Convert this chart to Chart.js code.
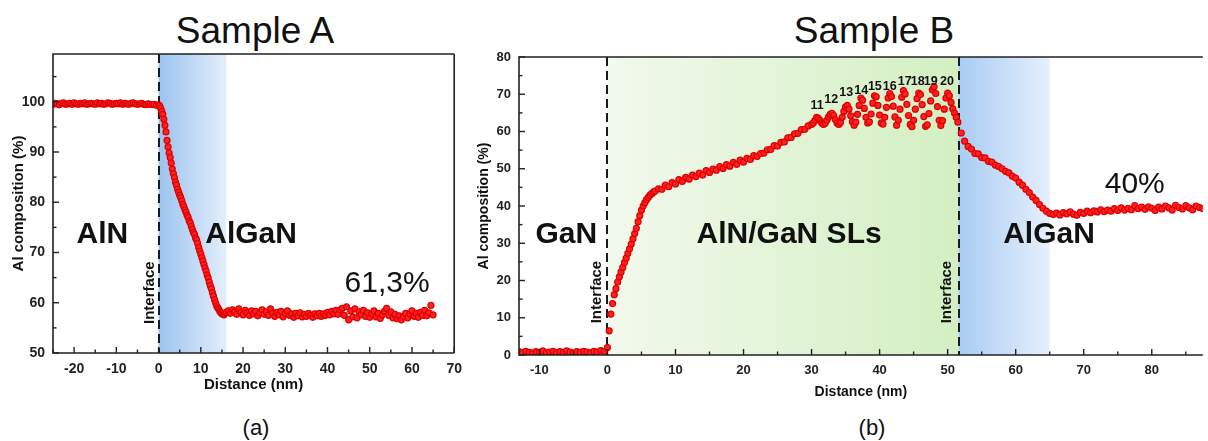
<!DOCTYPE html>
<html>
<head>
<meta charset="utf-8">
<script src="https://cdn.jsdelivr.net/npm/chart.js@4.4.0/dist/chart.umd.min.js"></script>
<style>
  body { margin: 0; background: #fff; width: 1208px; height: 441px; overflow: hidden; position: relative;
         font-family: "Liberation Sans", Arial, sans-serif; }
  canvas { position: absolute; top: 0; }
  #chartA { left: 0; }
  #chartB { left: 470px; }
  .lbl { position: absolute; color: #111; white-space: nowrap; transform: translateX(-50%); }
  .big { font-size: 37px; line-height: 37px; top: 12px; }
  .sub { font-size: 22px; line-height: 22px; top: 417px; }
</style>
</head>
<body>
<div class="lbl big" style="left:255px">Sample A</div>
<div class="lbl big" style="left:874px">Sample B</div>
<div class="lbl sub" style="left:256px">(a)</div>
<div class="lbl sub" style="left:872px">(b)</div>
<canvas id="chartA" width="470" height="441"></canvas>
<canvas id="chartB" width="738" height="441"></canvas>
<script>
// Sample A profile
const aDist = [
  -25,-24.5,-24,-23.5,-23,-22.5,-22,-21.5,-21,-20.5,
  -20,-19.5,-19,-18.5,-18,-17.5,-17,-16.5,-16,-15.5,
  -15,-14.5,-14,-13.5,-13,-12.5,-12,-11.5,-11,-10.5,
  -10,-9.5,-9,-8.5,-8,-7.5,-7,-6.5,-6,-5.5,
  -5,-4.5,-4,-3.5,-3,-2.5,-2,-1.5,-1,-0.5,
  0,
  0.25,0.5,0.75,1,1.25,1.5,1.75,2,2.25,2.5,
  2.75,3,3.25,3.5,3.75,4,4.25,4.5,4.75,5,
  5.25,5.5,5.75,6,6.25,6.5,6.75,7,7.25,7.5,
  7.75,8,8.25,8.5,8.75,9,9.25,9.5,9.75,10,
  10.25,10.5,10.75,11,11.25,11.5,11.75,12,12.25,12.5,
  12.75,13,13.25,13.5,13.75,14,14.25,14.5,14.75,15,
  15.25,15.5,15.75,16,
  16.5,17,17.5,18,18.5,19,19.5,20,20.5,21,
  21.5,22,22.5,23,23.5,24,24.5,25,25.5,26,
  26.5,27,27.5,28,28.5,29,29.5,30,30.5,31,
  31.5,32,32.5,33,33.5,34,34.5,35,35.5,36,
  36.5,37,37.5,38,38.5,39,39.5,40,40.5,41,
  41.5,42,42.5,43,43.5,44,44.5,45,45.5,46,
  46.5,47,47.5,48,48.5,49,49.5,50,50.5,51,
  51.5,52,52.5,53,53.5,54,54.5,55,55.5,56,
  56.5,57,57.5,58,58.5,59,59.5,60,60.5,61,
  61.5,62,62.5,63,63.5,64,64.5,65
];
const aAl = [
  99.5,99.7,99.6,99.4,99.7,99.8,99.5,99.6,99.7,99.5,
  99.8,99.6,99.5,99.7,99.6,99.8,99.5,99.6,99.7,99.6,
  99.5,99.8,99.6,99.7,99.5,99.6,99.8,99.7,99.5,99.6,
  99.7,99.6,99.8,99.5,99.7,99.6,99.5,99.7,99.8,99.6,
  99.5,99.6,99.7,99.5,99.4,99.6,99.5,99.4,99.5,99.3,
  99.4,
  99.2,98.7,98.1,97.5,96.5,95.3,94.0,92.3,91.0,89.8,
  88.9,87.8,86.6,85.7,84.9,84.0,83.4,82.6,82.0,81.4,
  80.9,80.3,79.6,79.1,78.5,78.0,77.4,77.0,76.3,75.9,
  75.2,74.6,74.0,73.6,72.9,72.5,71.8,71.0,70.3,69.7,
  69.0,68.3,67.6,66.9,66.3,65.5,64.9,64.1,63.4,62.8,
  62.0,61.3,60.6,60.0,59.4,59.0,58.7,58.3,58.0,57.8,
  57.9,57.6,57.9,58.1,
  58.4,57.9,58.6,58.2,57.7,58.8,58.1,57.6,58.5,58.0,
  57.5,58.4,57.8,58.3,57.4,58.0,58.6,57.7,58.2,57.5,
  58.8,57.9,57.3,58.1,57.6,58.3,57.2,57.9,58.4,57.5,
  57.8,57.1,57.9,57.4,58.0,57.2,57.7,57.3,57.9,57.5,
  57.1,57.8,57.4,57.9,57.3,57.8,57.5,58.1,57.6,58.3,
  57.8,58.5,57.7,58.6,58.9,57.5,59.2,56.6,58.4,57.2,
  58.8,57.0,58.2,57.6,58.5,57.3,58.0,57.1,57.8,58.4,
  57.2,57.9,56.9,57.6,58.3,58.9,57.5,58.2,57.0,57.7,
  56.8,57.4,56.6,57.3,57.9,57.0,57.8,58.4,57.3,57.9,
  57.1,58.1,57.5,58.5,57.4,58.0,59.5,57.6
];

// Sample B profile
const bDist = [
  -13,-12.5,-12,-11.5,-11,-10.5,-10,-9.5,-9,-8.5,
  -8,-7.5,-7,-6.5,-6,-5.5,-5,-4.5,-4,-3.5,
  -3,-2.5,-2,-1.5,-1,-0.5,
  0,0.25,0.5,0.75,1,1.25,1.5,1.75,2,2.25,
  2.5,2.75,3,3.25,3.5,3.75,4,4.25,4.5,4.75,
  5,5.25,5.5,5.75,6,6.25,6.5,6.75,7,
  7.5,8,8.5,9,9.5,10,10.5,11,11.5,12,
  12.5,13,13.5,14,14.5,15,15.5,16,16.5,17,
  17.5,18,18.5,19,19.5,20,20.5,21,21.5,22,
  22.5,23,23.5,24,24.5,25,25.5,26,26.5,27,
  27.5,28,28.5,29,29.5,30,
  30.25,30.5,30.75,31,31.25,31.5,31.75,32,32.25,32.5,
  32.75,33,33.25,33.5,33.75,34,34.25,34.5,34.75,35,
  35.25,35.5,35.75,36,36.25,36.5,36.75,37,37.25,37.5,
  37.75,38,38.25,38.5,38.75,39,39.25,39.5,39.75,40,
  40.25,40.5,40.75,41,41.25,41.5,41.75,42,42.25,42.5,
  42.75,43,43.25,43.5,43.75,44,44.25,44.5,44.75,45,
  45.25,45.5,45.75,46,46.25,46.5,46.75,47,47.25,47.5,
  47.75,48,48.25,48.5,48.75,49,49.25,49.5,49.75,50,
  50.25,50.5,50.75,51,51.25,51.5,
  52,52.5,53,53.5,54,54.5,55,55.5,56,56.5,
  57,57.5,58,58.5,59,59.5,60,60.5,61,61.5,
  62,62.5,63,63.5,64,64.5,65,65.5,66,66.5,
  67,67.5,68,68.5,69,69.5,70,70.5,71,71.5,
  72,72.5,73,73.5,74,74.5,75,75.5,76,76.5,
  77,77.5,78,78.5,79,79.5,80,80.5,81,81.5,
  82,82.5,83,83.5,84,84.5,85,85.5,86,86.5,
  87,87.5
];
const bAl = [
  0.9,0.6,1.0,0.7,0.5,0.9,0.7,1.1,0.6,0.8,
  1.0,0.6,0.9,0.7,1.1,0.8,0.5,0.9,0.7,1.0,
  0.8,0.6,1.0,0.8,1.2,1.0,
  2.0,6.5,11.0,13.8,16.2,17.8,19.6,21.0,22.3,23.5,
  24.8,26.0,27.3,28.5,29.8,31.2,32.6,34.0,35.8,37.4,
  38.9,40.0,40.9,41.7,42.3,42.9,43.3,43.7,44.0,
  44.6,44.5,45.6,45.2,46.3,45.9,47.1,46.6,47.7,47.2,
  48.3,47.9,48.8,48.3,49.5,49.0,49.9,49.6,50.6,50.1,
  51.1,50.7,51.7,51.2,52.3,51.8,52.8,52.5,53.5,53.3,
  54.1,54.2,55.1,55.2,56.2,56.1,57.1,57.2,58.3,58.4,
  59.4,59.5,60.5,60.6,61.5,61.9,
  62.3,63.0,63.8,63.5,62.9,62.3,61.9,62.2,63.0,63.9,
  64.6,64.9,64.3,63.2,62.3,61.9,62.4,63.8,65.4,66.6,
  67.0,66.0,64.2,62.6,61.7,62.5,64.6,67.0,69.0,68.4,
  66.2,63.8,62.3,62.6,64.7,67.6,69.6,69.3,67.0,64.4,
  62.3,62.0,63.8,66.5,69.0,70.2,69.4,66.8,63.9,61.7,
  63.0,66.0,69.2,71.0,70.1,67.3,64.3,61.9,61.3,63.0,
  66.0,68.8,70.3,69.9,67.2,64.0,61.4,61.8,64.8,68.2,
  71.2,72.0,70.2,66.7,63.0,61.6,62.9,66.0,69.0,70.3,
  69.6,67.8,66.1,65.0,63.8,62.5,
  59.6,57.4,56.0,55.3,54.1,54.0,53.0,52.9,52.0,51.8,
  51.0,50.6,50.0,49.3,48.9,48.0,47.5,46.4,45.6,44.5,
  43.6,42.4,41.5,40.4,39.4,38.6,38.0,37.7,38.1,37.6,
  38.2,37.9,38.4,37.8,37.5,38.3,38.0,38.6,38.2,38.7,
  38.4,39.0,38.5,38.9,38.6,39.3,38.8,39.5,38.9,39.4,
  39.0,40.1,39.3,39.7,39.1,39.8,39.4,38.8,39.7,39.2,
  40.0,39.5,38.9,40.2,39.6,39.2,40.1,39.5,39.0,40.0,
  39.6,39.3
];

// superlattice period numbers shown above the peaks
const slNumbers = ['11','12','13','14','15','16','17','18','19','20'];
const slPeakDist = [30.8, 32.9, 35.1, 37.3, 39.3, 41.5, 43.7, 45.6, 47.5, 49.9];
const slLabelAl = [66.0, 67.7, 69.4, 70.2, 71.1, 71.1, 72.5, 72.5, 72.5, 72.5];

const FONT = '"Liberation Sans", Arial, sans-serif';

// shading bands, interface lines, frame, inward ticks and text
const decor = {
  id: 'decor',
  beforeDraw(chart, args, o) {
    const { ctx, chartArea: a, scales: { x } } = chart;
    ctx.save();
    o.bands.forEach(b => {
      const x0 = x.getPixelForValue(b.from), x1 = x.getPixelForValue(b.to);
      const g = ctx.createLinearGradient(x0, 0, x1, 0);
      g.addColorStop(0, b.c0);
      g.addColorStop(1, b.c1);
      ctx.fillStyle = g;
      ctx.fillRect(x0, a.top, x1 - x0, a.bottom - a.top);
    });
    ctx.strokeStyle = '#1a1a1a';
    ctx.lineWidth = 2;
    ctx.setLineDash([9, 5]);
    o.interfaces.forEach(v => {
      const px = Math.round(x.getPixelForValue(v));
      ctx.beginPath();
      ctx.moveTo(px, a.top);
      ctx.lineTo(px, a.bottom);
      ctx.stroke();
    });
    ctx.restore();
  },
  afterDatasetsDraw(chart, args, o) {
    const { ctx, chartArea: a, scales: { x, y } } = chart;
    ctx.save();
    ctx.strokeStyle = '#222';
    ctx.lineWidth = 1.6;
    ctx.beginPath();
    ctx.moveTo(a.right, a.top);
    ctx.lineTo(a.left, a.top);
    ctx.lineTo(a.left, a.bottom);
    ctx.lineTo(a.right, a.bottom);
    if (o.closed) {
      ctx.moveTo(a.right, a.top);
      ctx.lineTo(a.right, a.bottom);
    }
    ctx.stroke();

    ctx.lineWidth = 1.4;
    for (let v = Math.ceil(x.min / 5) * 5; v <= x.max; v += 5) {
      const px = x.getPixelForValue(v), len = v % 10 === 0 ? 6 : 3.5;
      ctx.beginPath();
      ctx.moveTo(px, a.bottom);
      ctx.lineTo(px, a.bottom - len);
      ctx.stroke();
    }
    for (let v = Math.ceil(y.min / 5) * 5; v <= y.max; v += 5) {
      const py = y.getPixelForValue(v), len = v % 10 === 0 ? 6 : 3.5;
      ctx.beginPath();
      ctx.moveTo(a.left, py);
      ctx.lineTo(a.left + len, py);
      ctx.stroke();
    }

    ctx.fillStyle = '#111';
    ctx.textAlign = 'center';
    o.labels.forEach(l => {
      const px = x.getPixelForValue(l.x), py = y.getPixelForValue(l.y);
      ctx.font = l.font;
      if (l.rot) {
        ctx.save();
        ctx.translate(px, py);
        ctx.rotate(-Math.PI / 2);
        ctx.textBaseline = 'middle';
        ctx.fillText(l.text, 0, 0);
        ctx.restore();
      } else {
        ctx.textBaseline = 'alphabetic';
        ctx.fillText(l.text, px, py);
      }
    });

    ctx.font = o.titleFont;
    ctx.textBaseline = 'alphabetic';
    ctx.fillText('Distance (nm)', (a.left + a.right) / 2, a.bottom + o.xTitleGap);
    ctx.save();
    ctx.translate(a.left + o.yTitleOffset, (a.top + a.bottom) / 2);
    ctx.rotate(-Math.PI / 2);
    ctx.textBaseline = 'middle';
    ctx.fillText('Al composition (%)', 0, 0);
    ctx.restore();
    ctx.restore();
  }
};

function profileChart(id, dist, al, xMin, xMax, yMin, yMax, padding, yWidth, tickFont, decorOpts) {
  return new Chart(document.getElementById(id), {
    type: 'scatter',
    data: {
      datasets: [{
        data: dist.map((d, i) => ({ x: d, y: al[i] })),
        pointRadius: 3,
        pointBackgroundColor: '#ff2020',
        pointBorderColor: '#dd0000',
        pointBorderWidth: 1.2
      }]
    },
    options: {
      responsive: false,
      animation: false,
      devicePixelRatio: 1,
      layout: { padding: padding },
      plugins: { legend: { display: false }, tooltip: { enabled: false }, decor: decorOpts },
      scales: {
        x: {
          type: 'linear', min: xMin, max: xMax,
          afterFit: s => { s.height = 30; },
          grid: { display: false, drawTicks: false },
          border: { display: false },
          ticks: { stepSize: 10, includeBounds: false, autoSkip: false, maxRotation: 0, padding: 8,
                   color: '#222', font: { family: FONT, size: tickFont, weight: 'bold' } }
        },
        y: {
          min: yMin, max: yMax,
          afterFit: s => { s.width = yWidth; },
          grid: { display: false, drawTicks: false },
          border: { display: false },
          ticks: { stepSize: 10, includeBounds: false, autoSkip: false, padding: 8,
                   color: '#222', font: { family: FONT, size: tickFont, weight: 'bold' } }
        }
      }
    },
    plugins: [decor]
  });
}

const bigBold = 'bold 30px ' + FONT;
const bigPlain = '30px ' + FONT;
const ifaceFont = 'bold 15px ' + FONT;

profileChart('chartA', aDist, aAl, -25, 70, 50, 109.5,
  { left: 0, top: 54, right: 13, bottom: 58 }, 53, 14, {
    bands: [{ from: 0, to: 16, c0: '#9cc3ef', c1: '#e3eefb' }],
    interfaces: [0],
    closed: true,
    titleFont: 'bold 15px ' + FONT,
    xTitleGap: 36,
    yTitleOffset: -34,
    labels: [
      { text: 'AlN', x: -13.3, y: 71.9, font: bigBold },
      { text: 'AlGaN', x: 21.9, y: 71.9, font: bigBold },
      { text: '61,3%', x: 54.1, y: 62.2, font: bigPlain },
      { text: 'Interface', x: -2.1, y: 62.0, font: ifaceFont, rot: true }
    ]
  });

const bLabels = [
  { text: 'GaN', x: -6.05, y: 30.1, font: bigBold },
  { text: 'AlN/GaN SLs', x: 26.7, y: 30.1, font: bigBold },
  { text: 'AlGaN', x: 64.9, y: 30.1, font: bigBold },
  { text: '40%', x: 77.5, y: 43.5, font: bigPlain },
  { text: 'Interface', x: -1.6, y: 16.9, font: ifaceFont, rot: true },
  { text: 'Interface', x: 49.9, y: 16.9, font: ifaceFont, rot: true }
];
slNumbers.forEach((n, i) => {
  bLabels.push({ text: n, x: slPeakDist[i], y: slLabelAl[i], font: 'bold 12.5px ' + FONT });
});

profileChart('chartB', bDist, bAl, -13, 87.5, 0, 80,
  { left: 0, top: 57, right: 0, bottom: 56 }, 49, 13, {
    bands: [
      { from: 0, to: 51.6, c0: '#f2f9ed', c1: '#d3efc2' },
      { from: 51.6, to: 65, c0: '#a8ccf3', c1: '#e6effc' }
    ],
    interfaces: [0, 51.6],
    closed: false,
    titleFont: 'bold 14px ' + FONT,
    xTitleGap: 41,
    yTitleOffset: -35,
    labels: bLabels
  });
</script>
</body>
</html>
